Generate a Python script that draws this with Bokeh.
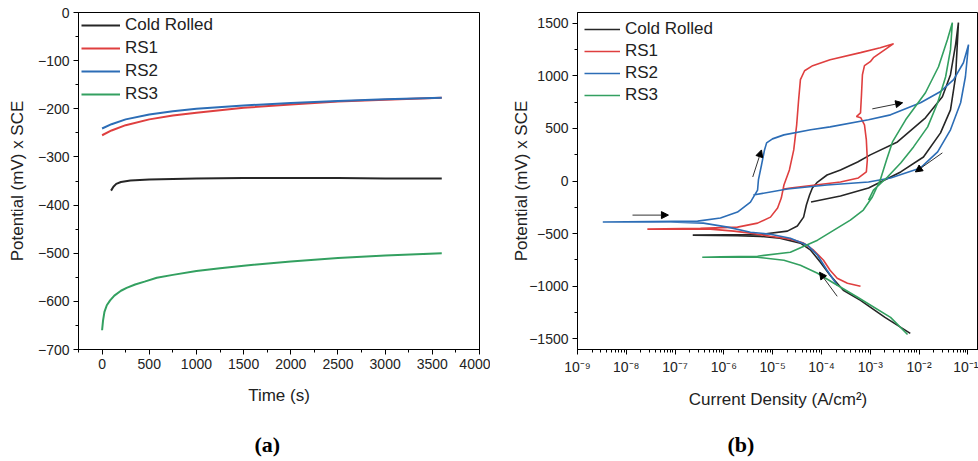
from bokeh.plotting import figure
from bokeh.layouts import row
from bokeh.models import (SingleIntervalTicker, FixedTicker, CustomJSTickFormatter, Title, LinearAxis,
                          Arrow, NormalHead, Range1d, ColumnDataSource)
from bokeh.embed import file_html
from bokeh.resources import INLINE

FONT = "Liberation Sans"
names = ["Cold Rolled", "RS1", "RS2", "RS3"]
colors = ["#262626", "#df3f3f", "#2c6db6", "#33a060"]

# ---------------- panel (a): open circuit potential vs time ----------------
cr_t = [95, 120, 150, 200, 300, 500, 1000, 1500, 2000, 2500, 3000, 3600]
cr_e = [-370, -362, -356, -352, -349, -347, -345, -344, -344, -344, -345, -345]
rs1_t = [0, 100, 250, 500, 750, 1000, 1500, 2000, 2500, 3000, 3600]
rs1_e = [-255, -245, -234, -222, -214, -208, -198, -191, -185, -181, -177]
rs2_t = [0, 100, 250, 500, 750, 1000, 1500, 2000, 2500, 3000, 3600]
rs2_e = [-241, -232, -222, -212, -205, -200, -193, -188, -184, -180, -177]
rs3_t = [0, 10, 25, 50, 85, 130, 200, 260, 350, 450, 580, 750, 1000, 1250, 1500,
         2000, 2500, 3000, 3600]
rs3_e = [-660, -640, -622, -608, -598, -588, -578, -572, -565, -559, -551, -545,
         -537, -531, -526, -517, -510, -505, -500]

# ---------------- panel (b): cyclic polarization ----------------
cr_i = [6.6e-3, 2.0e-3, 6.3e-4, 2.8e-4, 1.5e-4, 9.5e-5, 6.0e-5, 3.7e-5, 1.4e-5, 5.6e-6, 1.9e-6, 2.3e-7,
        5.6e-6, 2.0e-5, 3.2e-5, 4.3e-5, 4.9e-5, 5.7e-5, 6.5e-5, 8.3e-5, 1.3e-4, 2.45e-4, 5.5e-4,
        1.0e-3, 3.6e-3, 1.35e-2, 3.0e-2, 4.4e-2, 5.6e-2, 6.4e-2,
        5.6e-2, 4.4e-2, 2.75e-2, 1.23e-2, 4.2e-3, 9.2e-4, 2.45e-4, 6.1e-5]
cr_p = [-1447, -1295, -1133, -1038, -895, -771, -657, -590, -543, -526, -520, -514,
        -508, -476, -428, -343, -228, -133, -67, -10, 57, 105, 181,
        248, 371, 600, 800, 1009, 1295, 1504,
        990, 676, 457, 228, 86, -67, -143, -200]

rs1_i = [6.3e-4, 3.4e-4, 2.1e-4, 1.5e-4, 1.1e-4, 6.9e-5, 4.3e-5, 2.3e-5, 9.0e-6, 3.5e-6, 1.6e-6, 5.3e-7, 2.7e-8,
         3.3e-7, 1.9e-6, 4.9e-6, 9.0e-6, 1.26e-5, 1.5e-5, 1.7e-5, 2.2e-5, 2.7e-5, 3.1e-5, 3.4e-5,
         3.7e-5, 4.5e-5, 6.6e-5, 1.5e-4, 6.3e-4, 1.6e-3, 3.0e-3,
         1.16e-3, 1.0e-3, 7.6e-4, 6.9e-4, 6.6e-4, 6.3e-4, 5.2e-4, 6.4e-4, 7.6e-4, 8.3e-4, 8.7e-4,
         8.3e-4, 5.7e-4, 2.45e-4, 7.5e-5, 2.3e-5, 1.7e-5]
rs1_p = [-1000, -971, -923, -847, -752, -657, -590, -552, -524, -495, -476, -457, -457,
         -450, -438, -400, -343, -257, -162, -38, 105, 295, 533, 771,
         962, 1047, 1095, 1152, 1219, 1266, 1304,
         1171, 1133, 1095, 1009, 819, 647, 612, 600, 533, 390, 200,
         86, 29, -10, -38, -67, -76]

rs2_i = [2.1e-4, 1.3e-4, 8.3e-5, 5.2e-5, 2.3e-5, 9.0e-6, 3.5e-6, 1.2e-6, 3.8e-7, 8.1e-8, 1.7e-8, 3.3e-9,
         3.2e-8, 2.9e-7, 8.5e-7, 1.9e-6, 3.5e-6, 4.9e-6, 5.1e-6, 5.9e-6, 6.8e-6, 7.5e-6, 9.9e-6,
         1.7e-5, 6.0e-5, 1.5e-4, 9.2e-4, 2.6e-3, 1.07e-2, 2.7e-2, 5.1e-2, 8.1e-2, 1.03e-1,
         8.9e-2, 7.1e-2, 4.4e-2, 2.4e-2, 1.07e-2, 2.6e-3, 9.2e-4, 1.3e-4, 2.0e-5, 4.0e-6]
rs2_p = [-990, -847, -705, -609, -543, -505, -486, -438, -400, -390, -390, -390,
         -384, -381, -352, -295, -200, -86, 10, 152, 295, 362, 400,
         438, 486, 514, 581, 628, 743, 847, 962, 1123, 1295,
         990, 743, 486, 276, 124, 29, -10, -38, -76, -133]

rs3_i = [5.8e-3, 2.6e-3, 5.5e-4, 1.8e-4, 8.3e-5, 3.7e-5, 1.7e-5, 4.9e-6, 8.5e-7, 3.6e-7,
         8.5e-7, 4.9e-6, 2.3e-5, 8.3e-5, 1.8e-4, 3.9e-4, 7.2e-4, 1.1e-3, 1.6e-3, 2.15e-3,
         2.85e-3, 5.3e-3, 1.35e-2, 2.5e-2, 3.8e-2, 4.8e-2,
         4.4e-2, 3.5e-2, 2.4e-2, 1.5e-2, 7.7e-3, 4.2e-3, 2.25e-3, 1.16e-3, 9.2e-4]
rs3_p = [-1457, -1295, -1104, -971, -876, -800, -752, -724, -724, -724,
         -720, -714, -676, -562, -466, -371, -276, -152, 10, 200,
         371, 581, 838, 1085, 1342, 1504,
         1247, 990, 743, 514, 324, 171, 38, -86, -181]

# scan-direction arrows (data coordinates)
arrow_x0 = [1.34e-8, 3.9e-6, 1.1e-3, 3.0e-2, 2.1e-4]
arrow_y0 = [-324, 38, 685, 267, -1095]
arrow_x1 = [7.3e-8, 5.9e-6, 4.6e-3, 8.4e-3, 9.1e-5]
arrow_y1 = [-324, 295, 743, 86, -866]

x_decades = list(range(-9, 0))


def style(p):
    p.xgrid.visible = False
    p.ygrid.visible = False
    p.outline_line_color = "black"
    p.outline_line_alpha = 1
    p.outline_line_width = 1
    p.background_fill_color = "white"
    p.border_fill_color = "white"
    for ax in (p.xaxis, p.yaxis):
        ax.axis_line_color = "black"
        ax.major_tick_line_color = "black"
        ax.minor_tick_line_color = "black"
        ax.major_tick_out = 5
        ax.major_tick_in = 0
        ax.minor_tick_out = 3
        ax.minor_tick_in = 0
        ax.major_label_text_font = FONT
        ax.major_label_text_font_size = "14px"
        ax.major_label_text_color = "#222222"
        ax.axis_label_text_font = FONT
        ax.axis_label_text_font_size = "17px"
        ax.axis_label_text_font_style = "normal"
        ax.axis_label_text_color = "#222222"
        ax.major_label_standoff = 4


def style_legend(p, glyph_w, loc, padding, spacing):
    lg = p.legend[0]
    lg.location = loc
    lg.border_line_color = None
    lg.background_fill_alpha = 0
    lg.label_text_font = FONT
    lg.label_text_font_size = "17px"
    lg.label_text_color = "#222222"
    lg.glyph_width = glyph_w
    lg.glyph_height = 20
    lg.label_height = 20
    lg.spacing = spacing
    lg.margin = 0
    lg.padding = padding
    lg.label_standoff = 5


def caption(p, text, offset, gap):
    # invisible spacer axis (transparent tiny label gives it height), then the caption
    spacer = LinearAxis(ticker=FixedTicker(ticks=[]), axis_line_color=None,
                        major_tick_line_color=None, minor_tick_line_color=None,
                        major_tick_out=0, major_tick_in=0, minor_tick_out=0, minor_tick_in=0,
                        major_label_standoff=0, major_label_text_font_size="1px",
                        axis_label=".", axis_label_text_alpha=0, axis_label_text_font_size="2px",
                        axis_label_standoff=gap)
    p.add_layout(spacer, "below")
    p.add_layout(Title(text=text, align="left", offset=offset, standoff=0,
                       vertical_align="bottom", text_font="Liberation Serif",
                       text_font_style="bold", text_font_size="22px", text_color="black"), "below")


# ---------- figure a ----------
pa = figure(width=490, height=461, output_backend="svg", toolbar_location=None,
            x_range=Range1d(-250, 4000), y_range=Range1d(-700, 0),
            min_border_left=78, min_border_right=11, min_border_top=11, min_border_bottom=108)
style(pa)
pa.xaxis.ticker = SingleIntervalTicker(interval=500, num_minor_ticks=2)
pa.yaxis.ticker = SingleIntervalTicker(interval=100, num_minor_ticks=2)
pa.xaxis.axis_label = "Time (s)"
pa.yaxis.axis_label = "Potential (mV) x SCE"
pa.xaxis.axis_label_standoff = 14
pa.yaxis.axis_label_standoff = 8
for t, e, n, c in zip([cr_t, rs1_t, rs2_t, rs3_t], [cr_e, rs1_e, rs2_e, rs3_e], names, colors):
    pa.line(t, e, line_color=c, line_width=2, legend_label=n)
style_legend(pa, 39, (3, 245), 2, 3)
caption(pa, "(a)", 176, 18)

# ---------- figure b ----------
pb = figure(width=488, height=461, output_backend="svg", toolbar_location=None,
            x_axis_type="log", x_range=Range1d(1e-9, 0.165), y_range=Range1d(-1600, 1600),
            min_border_left=87, min_border_right=0, min_border_top=12, min_border_bottom=112)
style(pb)
pb.xaxis.ticker = FixedTicker(ticks=[10.0 ** d for d in x_decades],
                              minor_ticks=[m * 10.0 ** d for d in x_decades for m in range(2, 10)])
pb.xaxis.formatter = CustomJSTickFormatter(code="""
const sup = {'-':'\u207b','0':'\u2070','1':'\u00b9','2':'\u00b2','3':'\u00b3','4':'\u2074',
             '5':'\u2075','6':'\u2076','7':'\u2077','8':'\u2078','9':'\u2079'};
const e = Math.round(Math.log10(tick));
return '10' + String(e).split('').map(c => sup[c]).join('');
""")
pb.yaxis.ticker = SingleIntervalTicker(interval=500, num_minor_ticks=2)
pb.xaxis.axis_label = "Current Density (A/cm\u00b2)"
pb.yaxis.axis_label = "Potential (mV) x SCE"
pb.xaxis.axis_label_standoff = 12
pb.yaxis.axis_label_standoff = -5
for i, e, n, c in zip([cr_i, rs1_i, rs2_i, rs3_i], [cr_p, rs1_p, rs2_p, rs3_p], names, colors):
    pb.line(i, e, line_color=c, line_width=1.6, legend_label=n)
style_legend(pb, 36, (7, 244), 3, 2)

arrow_src = ColumnDataSource(dict(x0=arrow_x0, y0=arrow_y0, x1=arrow_x1, y1=arrow_y1))
pb.add_layout(Arrow(end=NormalHead(size=7, fill_color="black", line_color="black"),
                    x_start="x0", y_start="y0", x_end="x1", y_end="y1",
                    line_color="#333333", line_width=1, source=arrow_src))
caption(pb, "(b)", 150, 14)

layout = row(pa, pb)
open("out.html", "w").write(file_html(layout, INLINE))
